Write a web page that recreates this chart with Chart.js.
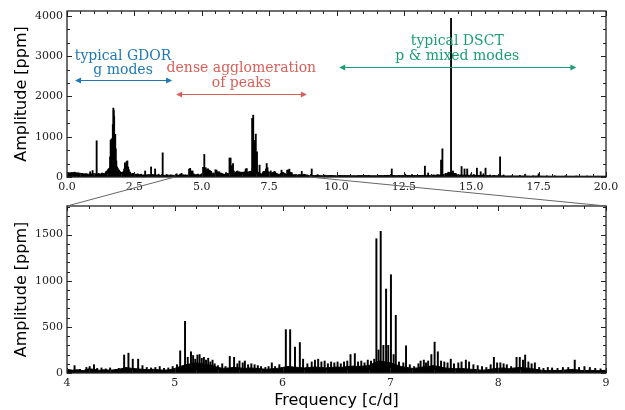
<!DOCTYPE html>
<html>
<head>
<meta charset="utf-8">
<script src="https://cdn.jsdelivr.net/npm/chart.js@4.4.1/dist/chart.umd.min.js"></script>
<style>
  html, body { margin: 0; padding: 0; background: #fff; }
  #wrap { position: relative; width: 625px; height: 410px; }
  #topBox { position: absolute; left: 0; top: 0; }
  #zoomBox { position: absolute; left: 0; top: 195px; }
  #links { position: absolute; left: 0; top: 0; pointer-events: none; }
</style>
</head>
<body>
<div id="wrap">
  <div id="topBox"><canvas id="topChart" width="625" height="195"></canvas></div>
  <div id="zoomBox"><canvas id="zoomChart" width="625" height="215"></canvas></div>
  <canvas id="links" width="625" height="410"></canvas>
</div>
<script>
// frequency ranges [c/d]
var fullRange = [0, 20];
var zoomRange = [4, 9];

// tick labels / steps
var topXTicks = [0, 2.5, 5, 7.5, 10, 12.5, 15, 17.5, 20];
var topYTicks = [0, 1000, 2000, 3000, 4000];
var zoomXTicks = [4, 5, 6, 7, 8, 9];
var zoomYTicks = [0, 500, 1000, 1500];

// resolved peaks: [frequency c/d, amplitude ppm]
var peaks = [
  [0.05,110],[0.15,90],[0.28,120],[0.42,100],[0.55,90],[0.72,80],[0.86,130],[0.95,160],
  [1.10,900],[1.18,90],[1.30,100],[1.45,130],[1.55,200],
  [1.60,500],[1.62,920],[1.64,700],[1.66,950],[1.68,900],[1.70,1300],[1.72,1710],[1.735,1650],
  [1.75,1500],[1.77,1000],[1.79,1060],[1.81,700],[1.83,400],[1.86,250],[1.90,150],[1.96,110],
  [2.12,200],[2.15,350],[2.18,300],[2.21,380],[2.24,400],[2.27,250],[2.30,180],[2.34,120],
  [2.45,90],[2.62,80],[2.75,70],[2.90,150],[3.02,60],[3.12,250],[3.27,200],[3.40,70],
  [3.55,600],[3.70,60],[3.85,50],
  [4.07,80],[4.12,40],[4.18,60],[4.21,70],[4.25,90],[4.28,50],[4.32,55],[4.36,45],[4.40,55],
  [4.45,40],[4.48,50],[4.53,195],[4.57,215],[4.61,150],[4.66,150],[4.70,80],[4.74,60],[4.78,55],
  [4.82,60],[4.86,70],[4.90,50],[4.94,55],[4.98,70],[5.02,90],[5.05,240],[5.095,560],[5.12,170],
  [5.15,230],[5.17,190],[5.19,150],[5.21,195],[5.23,200],[5.25,160],[5.27,170],[5.29,140],
  [5.31,160],[5.33,120],[5.35,140],[5.37,100],[5.40,80],[5.44,100],[5.47,70],[5.51,180],
  [5.55,170],[5.58,100],[5.60,130],[5.63,110],[5.65,130],[5.68,90],[5.71,100],[5.74,90],
  [5.77,80],[5.80,70],[5.84,60],[5.87,70],[5.90,110],[5.93,70],[5.97,90],[6.03,470],[6.07,470],
  [6.115,280],[6.16,330],[6.19,150],[6.23,100],[6.27,120],[6.30,140],[6.33,150],[6.36,120],
  [6.39,130],[6.42,100],[6.45,120],[6.48,110],[6.51,120],[6.54,100],[6.57,120],[6.60,130],
  [6.63,200],[6.67,210],[6.70,120],[6.73,130],[6.76,110],[6.79,140],[6.82,130],[6.85,150],
  [6.87,1455],[6.89,250],[6.91,1535],[6.935,300],[6.96,910],[6.98,300],[7.005,1065],[7.03,200],
  [7.05,625],[7.08,120],[7.12,110],[7.145,295],[7.18,90],[7.22,70],[7.26,100],[7.28,130],
  [7.31,140],[7.33,110],[7.35,130],[7.38,200],[7.41,335],[7.44,230],[7.47,130],[7.50,120],
  [7.53,110],[7.56,150],[7.59,100],[7.63,110],[7.66,120],[7.70,140],[7.73,120],[7.77,90],
  [7.81,80],[7.85,70],[7.89,60],[7.93,90],[7.96,170],[7.99,110],[8.02,110],[8.05,100],[8.08,90],
  [8.12,70],[8.17,170],[8.20,170],[8.23,140],[8.25,195],[8.28,120],[8.31,100],[8.34,110],
  [8.38,60],[8.42,50],[8.46,60],[8.50,55],[8.55,50],[8.60,60],[8.65,60],[8.71,140],[8.75,60],
  [8.80,70],[8.85,60],[8.90,50],[8.95,45],
  [9.08,200],[9.30,60],[9.55,50],[9.80,40],[10.10,40],[10.45,35],[10.80,30],[11.20,40],
  [11.60,30],[12.05,200],[12.30,40],[12.55,70],[12.80,60],[13.05,40],[13.28,270],[13.40,100],
  [13.60,50],[13.75,60],[13.88,420],[13.93,700],[14.05,90],[14.15,120],[14.25,3940],[14.32,150],
  [14.42,90],[14.64,260],[14.75,200],[14.85,200],[15.00,80],[15.10,60],[15.21,220],[15.35,130],
  [15.45,80],[15.53,220],[15.70,50],[15.85,40],[16.07,500],[16.20,50],[16.50,30],[16.80,40],
  [17.00,70],[17.30,30],[17.50,80],[17.80,30],[18.10,30],[18.50,30],[18.90,25],[19.30,25],[19.70,20]
];

// noise floor of the periodogram: [frequency c/d, amplitude ppm]
var noise = [
  [0.0,90],[0.2,110],[0.4,100],[0.6,80],[0.8,70],[1.0,80],[1.2,70],[1.4,90],[1.6,250],[1.8,300],
  [2.0,110],[2.2,150],[2.4,80],[2.6,60],[2.8,50],[3.0,50],[3.2,60],[3.4,40],[3.6,40],[3.8,45],
  [4.00,40],[4.05,30],[4.10,35],[4.15,25],[4.20,45],[4.25,40],[4.30,30],[4.35,35],[4.40,30],
  [4.45,35],[4.50,45],[4.55,60],[4.60,50],[4.65,45],[4.70,40],[4.75,35],[4.80,40],[4.85,35],
  [4.90,30],[4.95,35],[5.00,50],[5.05,70],[5.10,90],[5.15,100],[5.20,110],[5.25,100],[5.30,90],
  [5.35,80],[5.40,60],[5.45,50],[5.50,55],[5.55,60],[5.60,55],[5.65,50],[5.70,55],[5.75,50],
  [5.80,45],[5.85,40],[5.90,45],[5.95,50],[6.00,60],[6.05,70],[6.10,65],[6.15,60],[6.20,55],
  [6.25,60],[6.30,65],[6.35,60],[6.40,55],[6.45,60],[6.50,65],[6.55,60],[6.60,70],[6.65,75],
  [6.70,70],[6.75,75],[6.80,80],[6.85,110],[6.90,130],[6.95,120],[7.00,110],[7.05,90],[7.10,70],
  [7.15,60],[7.20,50],[7.25,55],[7.30,65],[7.35,70],[7.40,80],[7.45,70],[7.50,55],[7.55,50],
  [7.60,45],[7.65,50],[7.70,45],[7.75,40],[7.80,35],[7.85,30],[7.90,35],[7.95,45],[8.00,50],
  [8.05,55],[8.10,45],[8.15,55],[8.20,60],[8.25,55],[8.30,50],[8.35,40],[8.40,30],[8.45,25],
  [8.50,30],[8.55,25],[8.60,30],[8.65,35],[8.70,40],[8.75,30],[8.80,25],[8.85,30],[8.90,25],
  [8.95,25],[9.00,30],
  [9.25,35],[9.5,30],[9.75,35],[10.0,30],[10.25,35],[10.5,30],[10.75,30],[11.0,35],[11.25,30],
  [11.5,30],[11.75,35],[12.0,40],[12.25,30],[12.5,35],[12.75,35],[13.0,35],[13.25,40],[13.5,40],
  [13.75,45],[14.0,60],[14.25,120],[14.5,50],[14.75,45],[15.0,40],[15.25,40],[15.5,35],[15.75,30],
  [16.0,30],[16.25,25],[16.5,25],[16.75,25],[17.0,25],[17.25,20],[17.5,25],[17.75,20],[18.0,20],
  [18.25,20],[18.5,20],[18.75,20],[19.0,20],[19.25,20],[19.5,20],[19.75,20],[20.0,20]
];

var tickFont = { family: 'DejaVu Serif', size: 11 };
var titleFont = { family: 'DejaVu Sans', size: 16 };

// box around the plot area with inward major + minor ticks on all sides
var frameTicks = {
  id: 'frameTicks',
  afterDraw: function (chart, args, o) {
    var ctx = chart.ctx, a = chart.chartArea;
    ctx.save();
    ctx.strokeStyle = '#222';
    ctx.lineWidth = 1;
    function tick(x1, y1, x2, y2) { ctx.beginPath(); ctx.moveTo(x1, y1); ctx.lineTo(x2, y2); ctx.stroke(); }
    function walk(scale, minor, major, fn) {
      var n = Math.round((scale.max - scale.min) / minor);
      for (var i = 0; i <= n; i++) {
        var v = scale.min + i * minor;
        if (v > scale.max + 1e-9) break;
        var r = v / major;
        fn(scale.getPixelForValue(v), Math.abs(r - Math.round(r)) < 1e-6 ? 5 : 3);
      }
    }
    var xs = chart.scales.x, ys = chart.scales.y;
    walk(xs, o.xMinor, o.xMajor, function (p, len) {
      p = Math.round(p) + 0.5;
      tick(p, a.bottom, p, a.bottom - len);
      tick(p, a.top, p, a.top + len);
    });
    walk(ys, o.yMinor, o.yMajor, function (p, len) {
      p = Math.round(p) + 0.5;
      tick(a.left, p, a.left + len, p);
      tick(a.right, p, a.right - len, p);
    });
    ctx.lineWidth = 1.3;
    ctx.strokeRect(a.left, a.top, a.right - a.left, a.bottom - a.top);
    ctx.restore();
  }
};

// text labels and double arrows on the full spectrum
var notes = [
  { lines: ['typical GDOR', 'g modes'], color: '#1f78b4', x: 2.08, y: [3000, 2655], arrow: [0.3, 3.9, 2410] },
  { lines: ['dense agglomeration', 'of peaks'], color: '#d6605a', x: 6.47, y: [2705, 2330], arrow: [4.05, 8.9, 2070] },
  { lines: ['typical DSCT', 'p & mixed modes'], color: '#1b9e77', x: 14.48, y: [3360, 2990], arrow: [10.1, 18.9, 2740] }
];

var notesPlugin = {
  id: 'notes',
  afterDatasetsDraw: function (chart) {
    var ctx = chart.ctx, xs = chart.scales.x, ys = chart.scales.y;
    ctx.save();
    ctx.font = '14px "DejaVu Serif"';
    ctx.textAlign = 'center';
    ctx.textBaseline = 'middle';
    notes.forEach(function (n) {
      ctx.fillStyle = n.color;
      ctx.strokeStyle = n.color;
      n.lines.forEach(function (t, i) {
        ctx.fillText(t, xs.getPixelForValue(n.x), ys.getPixelForValue(n.y[i]));
      });
      var x1 = xs.getPixelForValue(n.arrow[0]), x2 = xs.getPixelForValue(n.arrow[1]);
      var y = Math.round(ys.getPixelForValue(n.arrow[2])) + 0.5;
      ctx.lineWidth = 1.2;
      ctx.beginPath(); ctx.moveTo(x1 + 3, y); ctx.lineTo(x2 - 3, y); ctx.stroke();
      ctx.beginPath(); ctx.moveTo(x1, y); ctx.lineTo(x1 + 6, y - 3); ctx.lineTo(x1 + 6, y + 3); ctx.closePath(); ctx.fill();
      ctx.beginPath(); ctx.moveTo(x2, y); ctx.lineTo(x2 - 6, y - 3); ctx.lineTo(x2 - 6, y + 3); ctx.closePath(); ctx.fill();
    });
    ctx.restore();
  }
};

function makeSpectrum(elementId, cfg) {
  var ctx = document.getElementById(elementId);
  return new Chart(ctx.getContext('2d'), {
    type: 'bar',
    data: {
      datasets: [
        {
          type: 'line',
          data: noise.map(function (p) { return { x: p[0], y: p[1] }; }),
          borderColor: '#000',
          backgroundColor: '#000',
          borderWidth: 1,
          pointRadius: 0,
          tension: 0,
          fill: 'origin'
        },
        {
          type: 'bar',
          data: peaks.map(function (p) { return { x: p[0], y: p[1] }; }),
          backgroundColor: '#000',
          barThickness: cfg.barWidth,
          grouped: false
        }
      ]
    },
    options: {
      responsive: false,
      animation: false,
      layout: { padding: { left: 0, right: 19, top: 11, bottom: 0 } },
      plugins: {
        legend: { display: false },
        tooltip: { enabled: false },
        frameTicks: cfg.ticks
      },
      scales: {
        x: {
          type: 'linear',
          min: cfg.range[0],
          max: cfg.range[1],
          offset: false,
          grid: { display: false, drawTicks: false },
          border: { display: false },
          afterBuildTicks: function (s) { s.ticks = cfg.xTicks.map(function (v) { return { value: v }; }); },
          ticks: {
            autoSkip: false,
            maxRotation: 0,
            padding: 4,
            color: '#222',
            font: tickFont,
            callback: cfg.xLabel
          },
          title: cfg.xTitle,
          afterFit: function (s) { s.height = cfg.xHeight; }
        },
        y: {
          min: 0,
          max: cfg.yMax,
          grid: { display: false, drawTicks: false },
          border: { display: false },
          afterBuildTicks: function (s) { s.ticks = cfg.yTicks.map(function (v) { return { value: v }; }); },
          ticks: { padding: 4, color: '#222', font: tickFont, callback: function (v) { return String(v); } },
          title: { display: true, text: 'Amplitude [ppm]', color: '#000', font: titleFont, padding: { top: 12, bottom: 0 } },
          afterFit: function (s) { s.width = 67; }
        }
      }
    },
    plugins: cfg.plugins
  });
}

var topChart = makeSpectrum('topChart', {
  range: fullRange,
  yMax: 4120,
  xTicks: topXTicks,
  yTicks: topYTicks,
  barWidth: 1.2,
  xHeight: 18,
  xLabel: function (v) { return v.toFixed(1); },
  xTitle: { display: false },
  ticks: { xMinor: 0.5, xMajor: 2.5, yMinor: 1000 / 3, yMajor: 1000 },
  plugins: [frameTicks, notesPlugin]
});

var zoomChart = makeSpectrum('zoomChart', {
  range: zoomRange,
  yMax: 1810,
  xTicks: zoomXTicks,
  yTicks: zoomYTicks,
  barWidth: 1.3,
  xHeight: 37,
  xLabel: function (v) { return String(v); },
  xTitle: { display: true, text: 'Frequency [c/d]', color: '#000', font: titleFont, padding: { top: 0, bottom: 0 } },
  ticks: { xMinor: 0.2, xMajor: 1, yMinor: 100, yMajor: 500 },
  plugins: [frameTicks]
});

// grey lines joining the zoomed range to the lower panel
var lc = document.getElementById('links').getContext('2d');
var zoomTop = 195;
var ta = topChart.chartArea, za = zoomChart.chartArea;
lc.strokeStyle = '#666';
lc.lineWidth = 1;
lc.beginPath();
lc.moveTo(topChart.scales.x.getPixelForValue(zoomRange[0]), ta.bottom);
lc.lineTo(za.left, za.top + zoomTop);
lc.moveTo(topChart.scales.x.getPixelForValue(zoomRange[1]), ta.bottom);
lc.lineTo(za.right, za.top + zoomTop);
lc.stroke();
</script>
</body>
</html>
